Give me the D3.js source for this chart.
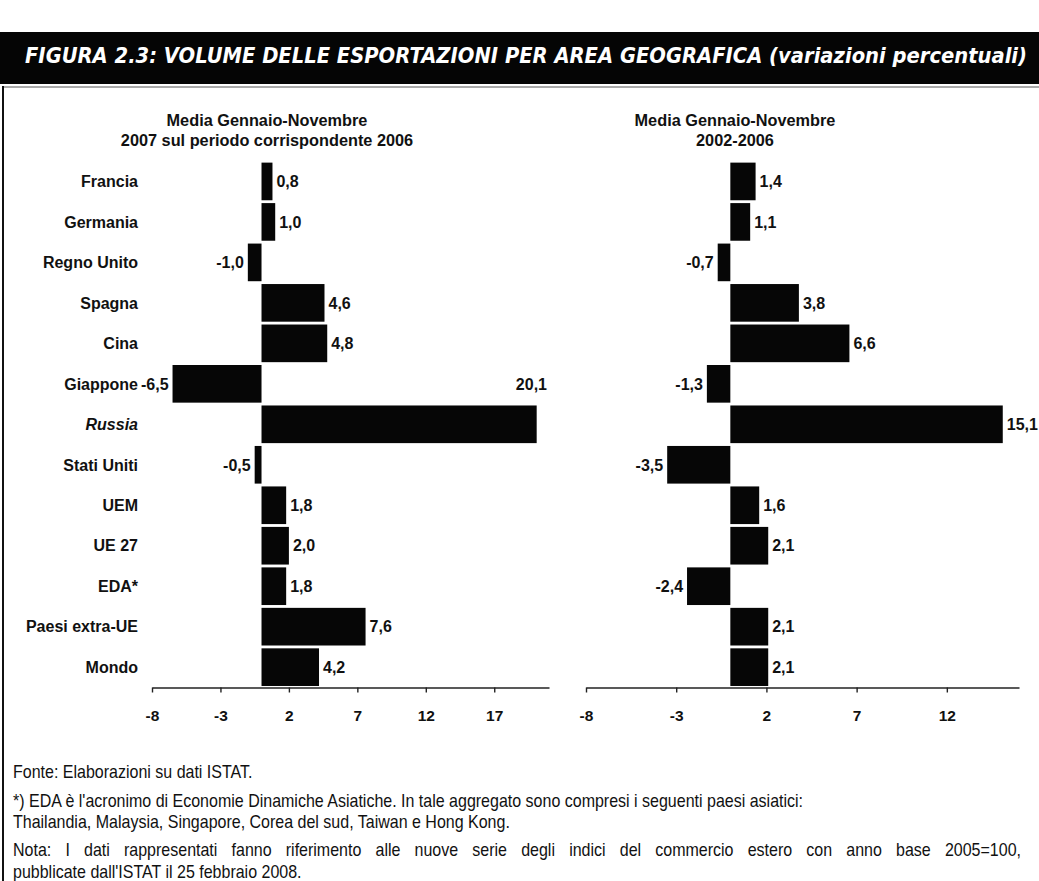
<!DOCTYPE html>
<html>
<head>
<meta charset="utf-8">
<script src="https://cdn.jsdelivr.net/npm/d3@7"></script>
<style>
  html, body { margin: 0; padding: 0; background: #fff; }
  svg { display: block; }
</style>
</head>
<body>
<svg id="fig" width="1039" height="881"></svg>
<script>
// ---- data ----
const categories = ["Francia", "Germania", "Regno Unito", "Spagna", "Cina", "Giappone", "Russia",
                    "Stati Uniti", "UEM", "UE 27", "EDA*", "Paesi extra-UE", "Mondo"];
const values2007 = [0.8, 1.0, -1.0, 4.6, 4.8, -6.5, 20.1, -0.5, 1.8, 2.0, 1.8, 7.6, 4.2];
const values2002_2006 = [1.4, 1.1, -0.7, 3.8, 6.6, -1.3, 15.1, -3.5, 1.6, 2.1, -2.4, 2.1, 2.1];
const ticksLeft = [-8, -3, 2, 7, 12, 17];
const ticksRight = [-8, -3, 2, 7, 12];
const titleText = "FIGURA 2.3: VOLUME DELLE ESPORTAZIONI PER AREA GEOGRAFICA (variazioni percentuali)";
const subtitleLeft = ["Media Gennaio-Novembre", "2007 sul periodo corrispondente 2006"];
const subtitleRight = ["Media Gennaio-Novembre", "2002-2006"];
const noteLines = [
  "Fonte: Elaborazioni su dati ISTAT.",
  "*) EDA è l'acronimo di Economie Dinamiche Asiatiche. In tale aggregato sono compresi i seguenti paesi asiatici:",
  "Thailandia, Malaysia, Singapore, Corea del sud, Taiwan e Hong Kong.",
  "Nota: I dati rappresentati fanno riferimento alle nuove serie degli indici del commercio estero con anno base 2005=100,",
  "pubblicate dall'ISTAT il 25 febbraio 2008."
];

// ---- setup ----
const svg = d3.select("#fig");
const W = 1039, H = 881;
const itLocale = d3.formatLocale({ decimal: ",", thousands: ".", grouping: [3], currency: ["€", ""], minus: "-" });
const fmt1 = itLocale.format(".1f");
const fmt0 = itLocale.format("d");
const FONT = "'Liberation Sans', Arial, Helvetica, sans-serif";

// header band
svg.append("rect").attr("x", 0).attr("y", 32).attr("width", W).attr("height", 52).attr("fill", "#050505");
svg.append("g")
  .attr("transform", "translate(25,63) scale(1,1.25)")
  .append("text")
  .attr("x", 0).attr("y", 0)
  .attr("fill", "#fff")
  .attr("font-family", "'DejaVu Sans', 'Open Sans', sans-serif")
  .attr("font-weight", "bold").attr("font-style", "italic")
  .attr("font-size", 16.5)
  .attr("textLength", 1002).attr("lengthAdjust", "spacingAndGlyphs")
  .text(titleText);

// frame lines
svg.append("line").attr("x1", 3).attr("x2", W).attr("y1", 87).attr("y2", 87)
  .attr("stroke", "#555").attr("stroke-width", 1);
svg.append("line").attr("x1", 3).attr("x2", 3).attr("y1", 86).attr("y2", H)
  .attr("stroke", "#111").attr("stroke-width", 2);

// shared vertical band scale
const y = d3.scaleBand().domain(categories).range([161.2, 687.4]).paddingInner(0.07).paddingOuter(0.035);
const axisY = 687.5;

function panel(values, xDomain, xRange, ticks, labelLimit, subtitle, subX, showCategories) {
  const g = svg.append("g");
  const x = d3.scaleLinear().domain(xDomain).range(xRange);
  const data = categories.map((c, i) => ({ c, v: values[i] }));

  // subtitle
  g.selectAll("text.sub").data(subtitle).join("text")
    .attr("class", "sub")
    .attr("x", subX).attr("y", (d, i) => 126 + i * 20)
    .attr("text-anchor", "middle")
    .attr("font-family", FONT).attr("font-weight", "bold").attr("font-size", 16.3)
    .attr("fill", "#111")
    .text(d => d);

  // bars
  g.selectAll("rect.bar").data(data).join("rect")
    .attr("class", "bar")
    .attr("x", d => x(Math.min(0, d.v)))
    .attr("width", d => Math.abs(x(d.v) - x(0)))
    .attr("y", d => y(d.c))
    .attr("height", y.bandwidth())
    .attr("fill", "#060606");

  // x axis
  const axis = g.append("g")
    .attr("transform", `translate(0,${axisY})`)
    .call(d3.axisBottom(x).tickValues(ticks).tickSize(5).tickSizeOuter(0).tickPadding(17).tickFormat(fmt0));
  axis.select(".domain").attr("stroke", "#222").attr("stroke-width", 1.4);
  axis.selectAll(".tick line").attr("stroke", "#222").attr("stroke-width", 1.4);
  axis.selectAll(".tick text")
    .attr("font-family", FONT).attr("font-weight", "bold").attr("font-size", 15.5).attr("fill", "#111");

  // category labels
  if (showCategories) {
    g.selectAll("text.cat").data(data).join("text")
      .attr("class", "cat")
      .attr("x", 138)
      .attr("y", d => y(d.c) + y.bandwidth() / 2)
      .attr("dy", "0.36em")
      .attr("text-anchor", "end")
      .attr("font-family", FONT).attr("font-weight", "bold").attr("font-size", 16)
      .attr("font-style", d => d.c === "Russia" ? "italic" : null)
      .attr("fill", "#111")
      .text(d => d.c);
  }

  // value labels
  g.selectAll("text.val").data(data).join("text")
    .attr("class", "val")
    .attr("font-family", FONT).attr("font-weight", "bold").attr("font-size", 16)
    .attr("fill", "#111")
    .attr("dy", "0.36em")
    .text(d => fmt1(d.v))
    .each(function (d) {
      const t = d3.select(this);
      const cy = y(d.c) + y.bandwidth() / 2;
      if (d.v < 0) {
        t.attr("x", x(d.v) - 4).attr("y", cy).attr("text-anchor", "end");
      } else {
        const w = this.getComputedTextLength();
        if (x(d.v) + 4 + w > labelLimit) {
          // no room at the bar end: lift the label into the row above, flush right
          t.attr("x", xRange[1] - 2).attr("y", cy - y.step()).attr("text-anchor", "end");
        } else {
          t.attr("x", x(d.v) + 4).attr("y", cy).attr("text-anchor", "start");
        }
      }
    });
}

panel(values2007, [-8, 21], [152, 549], ticksLeft, 549, subtitleLeft, 267, true);
panel(values2002_2006, [-8, 16], [586, 1019], ticksRight, W, subtitleRight, 735, false);

// notes: condensed sans; the first line of the "Nota" paragraph is justified
// to the full width by widening the word spaces
const condense = 0.89;
const noteY = [778, 807, 828, 856, 878];
const justifyWidth = 1008;
const notes = svg.append("g").attr("transform", `translate(13,0) scale(${condense},1)`);
notes.selectAll("text.note").data(noteLines).join("text")
  .attr("class", "note")
  .attr("x", 0)
  .attr("y", (d, i) => noteY[i])
  .attr("font-family", FONT).attr("font-size", 18)
  .attr("fill", "#111")
  .text(d => d)
  .each(function (d, i) {
    if (i === 3) {
      const natural = this.getComputedTextLength();
      const gaps = d.split(" ").length - 1;
      const extra = justifyWidth / condense - natural;
      if (extra > 0 && gaps > 0) d3.select(this).attr("word-spacing", extra / gaps);
    }
  });
</script>
</body>
</html>
